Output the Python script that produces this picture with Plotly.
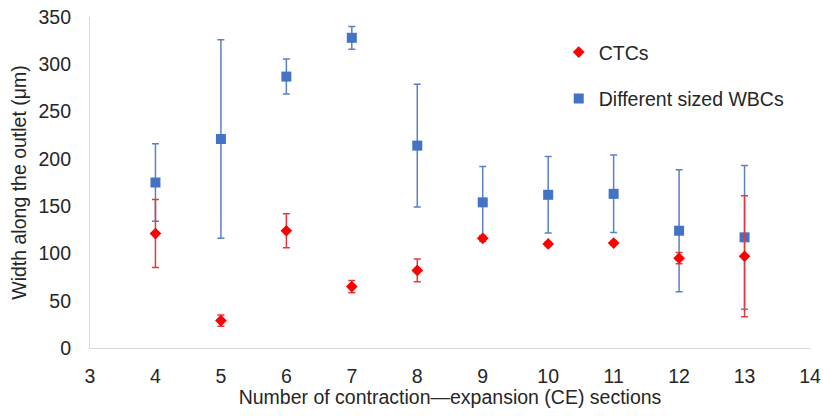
import plotly.graph_objects as go

# Number of CE sections
sections = [4, 5, 6, 7, 8, 9, 10, 11, 12, 13]

# CTCs: mean width along the outlet (µm) and error
ctc_mean = [121, 29, 124, 65, 82, 116, 110, 111, 95, 97]
ctc_err = [36, 6, 18, 6.5, 12, 3, 2, 2, 6, 64]

# Different sized WBCs: mean width along the outlet (µm) and error
wbc_mean = [175, 221, 287, 328, 214, 154, 162, 163, 124, 117]
wbc_err = [41, 105, 18.5, 12, 65, 38, 40.5, 41, 64.5, 76]

x_ticks = list(range(3, 15))
y_ticks = list(range(0, 351, 50))

FONT = "Liberation Sans, Arial, sans-serif"
TXT = "#262626"
FS = 19.5

fig = go.Figure()

fig.add_trace(go.Scatter(
    x=sections, y=wbc_mean, mode="markers", name="Different sized WBCs",
    legendrank=2, legendgroup="wbc",
    marker=dict(symbol="square", size=10, color="#4472C4"),
    error_y=dict(type="data", array=wbc_err, visible=True,
                 color="#5B80C8", thickness=1.5, width=3.5),
))

fig.add_trace(go.Scatter(
    x=sections, y=ctc_mean, mode="markers", name="CTCs",
    legendrank=1, legendgroup="ctc",
    marker=dict(symbol="diamond", size=9, color="#FF0000"),
    error_y=dict(type="data", array=ctc_err, visible=True,
                 color="#E8383D", thickness=1.5, width=3.5),
))

fig.update_layout(
    width=823, height=416,
    margin=dict(l=90, r=13, t=17, b=68, autoexpand=False),
    paper_bgcolor="white", plot_bgcolor="white",
    font=dict(family=FONT, size=FS, color=TXT),
    showlegend=True,
    legend=dict(x=0.651, y=0.952, xanchor="left", yanchor="top",
                bgcolor="rgba(0,0,0,0)", tracegroupgap=18,
                font=dict(family=FONT, size=FS, color=TXT)),
    xaxis=dict(
        range=[3, 14], tickvals=x_ticks, ticktext=[str(v) for v in x_ticks],
        showgrid=False, zeroline=False, automargin=False,
        showline=True, linecolor="#D9D9D9", linewidth=1.2,
        ticks="outside", ticklen=10, tickcolor="rgba(0,0,0,0)",
        title=dict(text="Number of contraction\u2014expansion (CE) sections",
                   standoff=3, font=dict(size=FS)),
    ),
    yaxis=dict(
        range=[0, 350], tickvals=y_ticks,
        showgrid=False, zeroline=False, automargin=False,
        showline=True, linecolor="#D9D9D9", linewidth=1.2,
        ticks="outside", ticklen=14, tickcolor="rgba(0,0,0,0)",
        title=dict(text="Width along the outlet (\u03bcm)", standoff=6,
                   font=dict(size=FS)),
    ),
)

fig.write_html("out.html")
